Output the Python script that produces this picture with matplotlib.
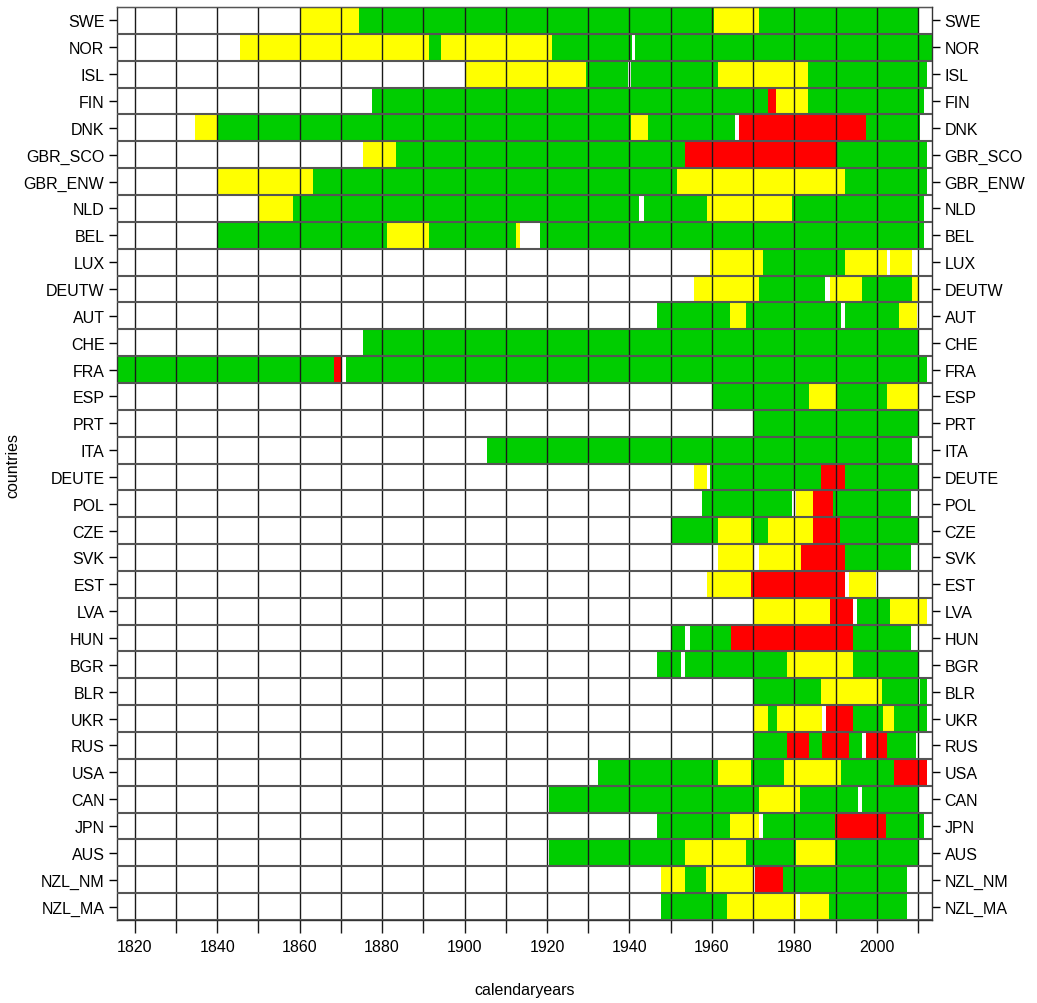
import matplotlib.pyplot as plt

countries = ["SWE", "NOR", "ISL", "FIN", "DNK", "GBR_SCO", "GBR_ENW", "NLD", "BEL",
             "LUX", "DEUTW", "AUT", "CHE", "FRA", "ESP", "PRT", "ITA", "DEUTE", "POL",
             "CZE", "SVK", "EST", "LVA", "HUN", "BGR", "BLR", "UKR", "RUS", "USA",
             "CAN", "JPN", "AUS", "NZL_NM", "NZL_MA"]

# (start year, end year, state) -- g = green, y = yellow, r = red
periods = {
    "SWE": [(1860, 1874.5, "y"), (1874.5, 1960.5, "g"), (1960.5, 1971.5, "y"), (1971.5, 2010, "g")],
    "NOR": [(1845.5, 1891.3, "y"), (1891.3, 1894.4, "g"), (1894.4, 1921.3, "y"), (1921.3, 1940.6, "g"),
            (1941.3, 2013.4, "g")],
    "ISL": [(1900, 1929.5, "y"), (1929.5, 1939.6, "g"), (1940.3, 1961.4, "g"), (1961.4, 1983.4, "y"),
            (1983.4, 2012.2, "g")],
    "FIN": [(1877.5, 1973.5, "g"), (1973.5, 1975.5, "r"), (1975.5, 1983.4, "y"), (1983.4, 2011.4, "g")],
    "DNK": [(1834.6, 1840.2, "y"), (1840.2, 1940.3, "g"), (1940.3, 1944.5, "y"), (1944.5, 1965.6, "g"),
            (1966.7, 1997.3, "r"), (1997.3, 2010.4, "g")],
    "GBR_SCO": [(1875.4, 1883.4, "y"), (1883.4, 1953.6, "g"), (1953.6, 1990.2, "r"), (1990.2, 2012.2, "g")],
    "GBR_ENW": [(1840.3, 1863.3, "y"), (1863.3, 1951.6, "g"), (1951.6, 1992.4, "y"), (1992.4, 2012.2, "g")],
    "NLD": [(1850, 1858.4, "y"), (1858.4, 1942.4, "g"), (1943.6, 1958.9, "g"), (1958.9, 1979.5, "y"),
            (1979.5, 2011.4, "g")],
    "BEL": [(1840.3, 1881.3, "g"), (1881.3, 1891.3, "y"), (1891.3, 1912.5, "g"), (1912.5, 1913.4, "y"),
            (1918.4, 2011.4, "g")],
    "LUX": [(1959.6, 1972.5, "y"), (1972.5, 1992.4, "g"), (1992.4, 2002.5, "y"), (2003.1, 2008.5, "y")],
    "DEUTW": [(1955.6, 1971.5, "y"), (1971.5, 1987.4, "g"), (1988.6, 1996.3, "y"), (1996.3, 2008.5, "g"),
              (2008.5, 2009.9, "y")],
    "AUT": [(1946.7, 1964.5, "g"), (1964.5, 1968.3, "y"), (1968.3, 1991.4, "g"), (1992.4, 2005.3, "g"),
            (2005.3, 2009.7, "y")],
    "CHE": [(1875.4, 2010.1, "g")],
    "FRA": [(1815.7, 1868.4, "g"), (1868.4, 1870.1, "r"), (1871.2, 2012.2, "g")],
    "ESP": [(1960.2, 1983.6, "g"), (1983.6, 1990, "y"), (1990, 2002.5, "g"), (2002.5, 2009.9, "y")],
    "PRT": [(1970.3, 2010.1, "g")],
    "ITA": [(1905.5, 2008.5, "g")],
    "DEUTE": [(1955.6, 1958.9, "y"), (1959.6, 1986.4, "g"), (1986.4, 1992.4, "r"), (1992.4, 2010.1, "g")],
    "POL": [(1957.6, 1979.5, "g"), (1980.5, 1984.6, "y"), (1984.6, 1989.5, "r"), (1989.5, 2008.4, "g")],
    "CZE": [(1950, 1961.4, "g"), (1961.4, 1969.5, "y"), (1969.5, 1973.5, "g"), (1973.5, 1984.6, "y"),
            (1984.6, 1991.2, "r"), (1991.2, 2010.1, "g")],
    "SVK": [(1961.4, 1969.9, "y"), (1971.5, 1981.6, "y"), (1981.6, 1992.4, "r"), (1992.4, 2008.4, "g")],
    "EST": [(1958.9, 1969.5, "y"), (1969.5, 1992.3, "r"), (1993.2, 1999.7, "y")],
    "LVA": [(1970.3, 1988.6, "y"), (1988.6, 1994.2, "r"), (1995.2, 2003.1, "g"), (2003.1, 2012.2, "y")],
    "HUN": [(1950, 1953.5, "g"), (1954.6, 1964.7, "g"), (1964.7, 1994.2, "r"), (1994.2, 2008.4, "g")],
    "BGR": [(1946.7, 1952.6, "g"), (1953.5, 1978.3, "g"), (1978.3, 1994.2, "y"), (1994.2, 2009.9, "g")],
    "BLR": [(1970.3, 1986.4, "g"), (1986.4, 2001.3, "y"), (2001.3, 2009.9, "g"), (2010.4, 2012.2, "g")],
    "UKR": [(1969.9, 1973.5, "y"), (1973.5, 1975.7, "g"), (1975.7, 1986.8, "y"), (1987.6, 1994.2, "r"),
            (1994.2, 2001.4, "g"), (2001.4, 2004.1, "y"), (2004.1, 2012.2, "g")],
    "RUS": [(1969.9, 1978.3, "g"), (1978.3, 1983.6, "r"), (1983.6, 1986.6, "g"), (1986.6, 1993.2, "r"),
            (1993.2, 1996.3, "g"), (1997.4, 2002.5, "r"), (2002.5, 2009.6, "g")],
    "USA": [(1932.4, 1961.4, "g"), (1961.4, 1969.5, "y"), (1969.5, 1977.4, "g"), (1977.4, 1991.4, "y"),
            (1991.4, 2004.3, "g"), (2004.3, 2012.2, "r")],
    "CAN": [(1920.4, 1971.5, "g"), (1971.5, 1981.4, "y"), (1981.4, 1995.5, "g"), (1996.3, 2009.9, "g")],
    "JPN": [(1946.7, 1964.5, "g"), (1964.5, 1971.5, "y"), (1972.5, 1989.8, "g"), (1989.8, 2002.3, "r"),
            (2002.3, 2011.4, "g")],
    "AUS": [(1920.4, 1953.6, "g"), (1953.6, 1968.3, "y"), (1968.3, 1980.5, "g"), (1980.5, 1989.8, "y"),
            (1989.8, 2009.9, "g")],
    "NZL_NM": [(1947.7, 1953.5, "y"), (1953.5, 1958.6, "g"), (1958.6, 1969.9, "y"), (1970.5, 1977.3, "r"),
               (1977.3, 2007.3, "g")],
    "NZL_MA": [(1947.7, 1963.6, "g"), (1963.6, 1980.5, "y"), (1981.4, 1988.4, "y"), (1988.4, 2007.3, "g")],
}

state_colors = {"g": "#00CD00", "y": "#FFFF00", "r": "#FF0000"}

x_ticks = list(range(1820, 2011, 10))
x_labels = [str(t) if t % 20 == 0 else "" for t in x_ticks]

plt.rcParams["font.family"] = "Liberation Sans"

fig = plt.figure(figsize=(10.37, 10.04), dpi=100)
ax = fig.add_axes([117 / 1037, 1 - 921 / 1004, 815 / 1037, 913 / 1004])

n = len(countries)
for i, country in enumerate(countries):
    ypos = n - i
    for start, end, state in periods[country]:
        ax.barh(ypos, end - start, left=start, height=1.0,
                color=state_colors[state], linewidth=0)

for x in x_ticks:
    ax.axvline(x, color="#1a1a1a", lw=1.0, zorder=3)
for k in range(n + 1):
    ax.axhline(k + 0.5, color="#555555", lw=1.5, zorder=3)

ax.set_xlim(1815.7, 2013.4)
ax.set_ylim(0.5, n + 0.5)

ax.set_xticks(x_ticks)
ax.set_xticklabels(x_labels, fontsize=11.5)
ax.tick_params(axis="x", length=9, width=1, color="#1a1a1a", pad=5)

ypos_all = [n - i for i in range(n)]
ax.set_yticks(ypos_all)
ax.set_yticklabels(countries, fontsize=11.5)
ax.tick_params(axis="y", length=6, width=1, left=True, right=True,
               labelleft=True, labelright=True, pad=3)

for s in ax.spines.values():
    s.set_color("#333333")
    s.set_linewidth(1.0)

ax.set_xlabel("calendaryears", fontsize=11.5, labelpad=20)
fig.text(13 / 1037, 1 - 465 / 1004, "countries", rotation=90,
         ha="center", va="center", fontsize=11.5)

fig.savefig("out.png", dpi=100)
